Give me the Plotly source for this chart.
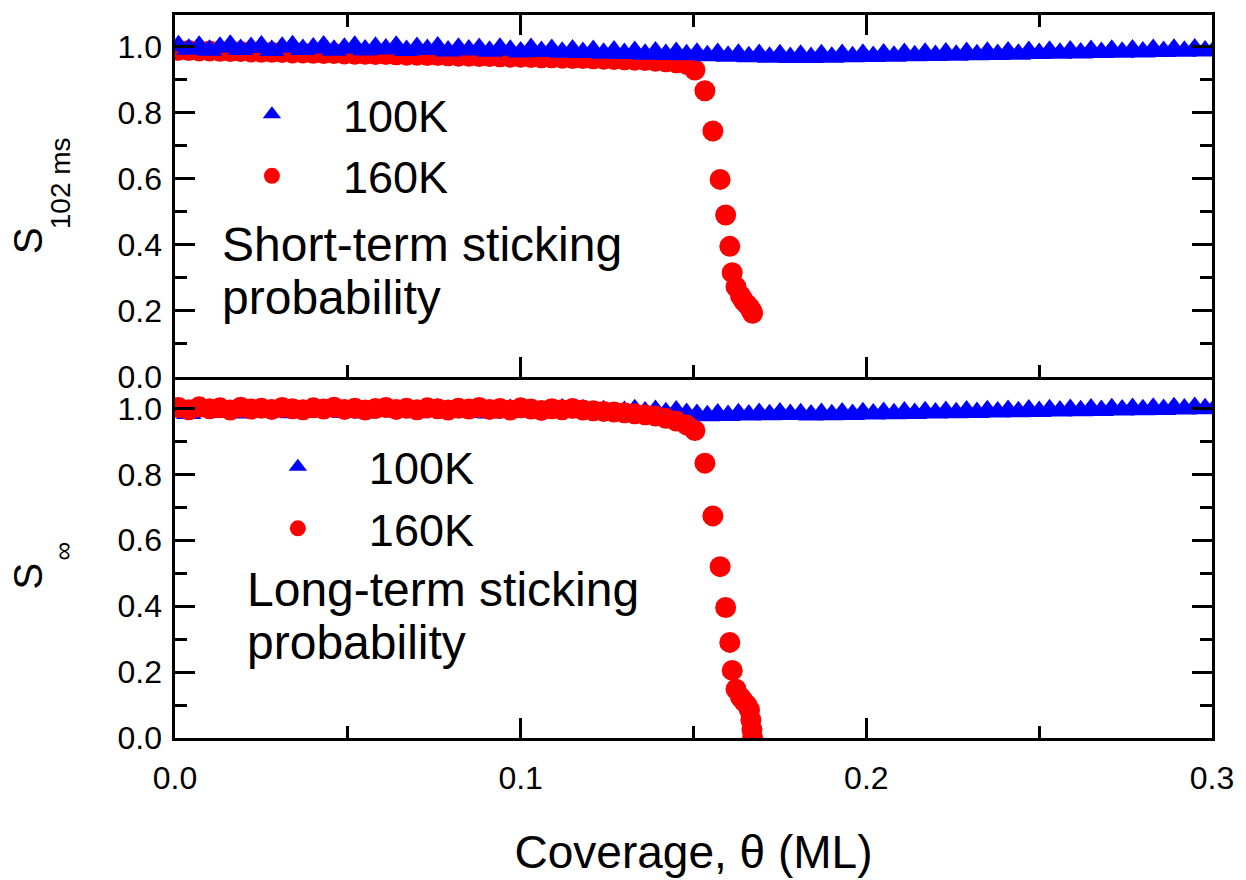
import plotly.graph_objects as go

FONT = "Liberation Sans, Arial, sans-serif"

# Coverage grid for the 100 K dosing series (ML)
theta_100k = [
    0.001, 0.004, 0.007, 0.010, 0.013, 0.016, 0.019, 0.022, 0.025, 0.028,
    0.031, 0.034, 0.037, 0.040, 0.043, 0.046, 0.049, 0.052, 0.055, 0.058,
    0.061, 0.064, 0.067, 0.070, 0.073, 0.076, 0.079, 0.082, 0.085, 0.088,
    0.091, 0.094, 0.097, 0.100, 0.103, 0.106, 0.109, 0.112, 0.115, 0.118,
    0.121, 0.124, 0.127, 0.130, 0.133, 0.136, 0.139, 0.142, 0.145, 0.148,
    0.151, 0.154, 0.157, 0.160, 0.163, 0.166, 0.169, 0.172, 0.175, 0.178,
    0.181, 0.184, 0.187, 0.190, 0.193, 0.196, 0.199, 0.202, 0.205, 0.208,
    0.211, 0.214, 0.217, 0.220, 0.223, 0.226, 0.229, 0.232, 0.235, 0.238,
    0.241, 0.244, 0.247, 0.250, 0.253, 0.256, 0.259, 0.262, 0.265, 0.268,
    0.271, 0.274, 0.277, 0.280, 0.283, 0.286, 0.289, 0.292, 0.295, 0.298, 0.301,
]

# Short-term (102 ms) sticking probability at 100 K
s_short_100k = [
    1.004, 0.993, 1.002, 0.990, 0.999, 1.005, 0.992, 0.998, 1.003, 0.989,
    0.999, 1.004, 0.992, 0.997, 1.003, 0.990, 0.996, 1.002, 0.991, 0.999,
    0.994, 1.002, 0.989, 0.998, 0.992, 1.000, 0.988, 0.996, 0.991, 0.995,
    0.987, 0.996, 0.990, 0.985, 0.995, 0.986, 0.992, 0.984, 0.991, 0.983,
    0.989, 0.981, 0.988, 0.980, 0.986, 0.978, 0.985, 0.977, 0.983, 0.976,
    0.981, 0.973, 0.980, 0.972, 0.978, 0.970, 0.977, 0.969, 0.976, 0.968,
    0.975, 0.968, 0.976, 0.969, 0.977, 0.970, 0.978, 0.971, 0.979, 0.972,
    0.980, 0.973, 0.981, 0.974, 0.982, 0.975, 0.983, 0.976, 0.984, 0.977,
    0.985, 0.978, 0.986, 0.980, 0.987, 0.981, 0.988, 0.982, 0.989, 0.983,
    0.990, 0.984, 0.991, 0.985, 0.992, 0.986, 0.993, 0.987, 0.994, 0.988, 0.995,
]

# Long-term (steady-state) sticking probability at 100 K
s_long_100k = [
    0.992, 0.985, 0.990, 0.996, 0.988, 0.993, 0.986, 0.991, 0.997, 0.989,
    0.994, 0.987, 0.992, 0.998, 0.990, 0.995, 0.988, 0.993, 0.986, 0.991,
    0.996, 0.989, 0.994, 0.987, 0.992, 0.998, 0.990, 0.995, 0.988, 0.993,
    0.986, 0.991, 0.997, 0.989, 0.994, 0.987, 0.992, 0.998, 0.990, 0.995,
    0.988, 0.993, 0.986, 0.991, 0.996, 0.989, 0.994, 0.987, 0.992, 0.985,
    0.982, 0.978, 0.983, 0.979, 0.984, 0.980, 0.985, 0.981, 0.986, 0.982,
    0.984, 0.980, 0.985, 0.981, 0.986, 0.982, 0.987, 0.983, 0.988, 0.984,
    0.989, 0.985, 0.990, 0.986, 0.991, 0.987, 0.992, 0.988, 0.993, 0.989,
    0.994, 0.990, 0.995, 0.991, 0.996, 0.992, 0.997, 0.993, 0.998, 0.994,
    0.999, 0.995, 1.000, 0.996, 1.001, 0.997, 1.002, 0.998, 1.003, 0.999, 1.004,
]

# Coverage grid for the 160 K dosing series (ML)
theta_160k = [
    0.001, 0.004, 0.007, 0.010, 0.013, 0.016, 0.019, 0.022, 0.025, 0.028,
    0.031, 0.034, 0.037, 0.040, 0.043, 0.046, 0.049, 0.052, 0.055, 0.058,
    0.061, 0.064, 0.067, 0.070, 0.073, 0.076, 0.079, 0.082, 0.085, 0.088,
    0.091, 0.094, 0.097, 0.100, 0.103, 0.106, 0.109, 0.112, 0.115, 0.118,
    0.121, 0.124, 0.127, 0.130, 0.133, 0.136, 0.139, 0.142, 0.145, 0.148,
    0.1504, 0.1533, 0.1556, 0.1577, 0.1593, 0.1605, 0.1612, 0.1623,
    0.1636, 0.1645, 0.1655, 0.1662, 0.1666, 0.1669, 0.1671,
]

# Short-term (102 ms) sticking probability at 160 K
s_short_160k = [
    0.990, 0.989, 0.988, 0.988, 0.987, 0.986, 0.986, 0.985, 0.984, 0.984,
    0.983, 0.982, 0.982, 0.981, 0.980, 0.980, 0.979, 0.978, 0.978, 0.977,
    0.977, 0.976, 0.975, 0.975, 0.974, 0.974, 0.973, 0.972, 0.972, 0.971,
    0.971, 0.970, 0.969, 0.969, 0.968, 0.967, 0.967, 0.966, 0.965, 0.965,
    0.964, 0.963, 0.962, 0.961, 0.960, 0.959, 0.957, 0.955, 0.952, 0.947,
    0.930, 0.867, 0.745, 0.598, 0.490, 0.395, 0.315, 0.272,
    0.245, 0.230, 0.218, 0.210, 0.203, 0.197, 0.192,
]

# Long-term (steady-state) sticking probability at 160 K
s_long_160k = [
    1.003, 0.996, 1.005, 0.999, 1.002, 0.995, 1.004, 0.998, 1.001, 0.997,
    1.003, 0.999, 0.996, 1.002, 0.998, 1.004, 0.997, 1.001, 0.995, 1.000,
    1.003, 0.997, 1.001, 0.996, 1.002, 0.999, 0.995, 1.001, 0.998, 1.003,
    0.997, 1.000, 0.995, 1.002, 0.998, 0.994, 0.999, 0.996, 1.000, 0.995,
    0.993, 0.991, 0.989, 0.987, 0.984, 0.981, 0.977, 0.970, 0.962, 0.950,
    0.933, 0.834, 0.674, 0.520, 0.396, 0.290, 0.205, 0.148,
    0.124, 0.112, 0.100, 0.085, 0.055, 0.025, 0.000,
]

series_names = ["100K", "160K"]
x_ticks = [0.0, 0.1, 0.2, 0.3]
y_ticks = [0.0, 0.2, 0.4, 0.6, 0.8, 1.0]
X_RANGE = [0, 0.3]
Y_RANGE = [0, 1.097]

BLUE = "#0000FF"
RED = "#FF0000"
TRI_SIZE = 22
DOT_SIZE = 21

fig = go.Figure()

# Upper panel: short-term sticking (100 K drawn over 160 K)
fig.add_trace(go.Scatter(
    x=theta_160k, y=s_short_160k, mode="markers", name=series_names[1],
    xaxis="x2", yaxis="y2", legend="legend", legendrank=2,
    marker=dict(symbol="circle", size=DOT_SIZE, color=RED, line=dict(width=0)),
))
fig.add_trace(go.Scatter(
    x=theta_100k, y=s_short_100k, mode="markers", name=series_names[0],
    xaxis="x2", yaxis="y2", legend="legend", legendrank=1,
    marker=dict(symbol="triangle-up", size=TRI_SIZE, color=BLUE, line=dict(width=0)),
))

# Lower panel: long-term sticking (160 K drawn over 100 K)
fig.add_trace(go.Scatter(
    x=theta_100k, y=s_long_100k, mode="markers", name=series_names[0],
    xaxis="x", yaxis="y", legend="legend2", legendrank=1,
    marker=dict(symbol="triangle-up", size=TRI_SIZE, color=BLUE, line=dict(width=0)),
))
fig.add_trace(go.Scatter(
    x=theta_160k, y=s_long_160k, mode="markers", name=series_names[1],
    xaxis="x", yaxis="y", legend="legend2", legendrank=2,
    marker=dict(symbol="circle", size=DOT_SIZE, color=RED, line=dict(width=0)),
))

# Empty placeholders so the overlaid label axes get a subplot and are drawn
for xa, ya in [("x3", "y"), ("x", "y3"), ("x2", "y4")]:
    fig.add_trace(go.Scatter(x=[], y=[], mode="markers", xaxis=xa, yaxis=ya,
                             showlegend=False, hoverinfo="skip"))

tick_font = dict(family=FONT, size=32, color="black")
legend_font = dict(family=FONT, size=45, color="black")


def frame_axis(step, minor_step, **kw):
    """Data axis: frame line plus inward major/minor tick marks."""
    base = dict(
        tickmode="linear", tick0=0, dtick=step,
        ticks="inside", ticklen=20, tickwidth=3, tickcolor="black",
        minor=dict(dtick=minor_step, ticks="inside", ticklen=12, tickwidth=3,
                   tickcolor="black", showgrid=False),
        showticklabels=False, showline=True, linecolor="black", linewidth=3,
        mirror="ticks", showgrid=False, zeroline=False,
    )
    base.update(kw)
    return base


def label_axis(vals, **kw):
    """Overlay axis carrying only the numeric tick labels."""
    base = dict(
        tickmode="array", tickvals=vals, tickformat=".1f", tickfont=tick_font,
        ticks="", showline=False, showgrid=False, zeroline=False,
    )
    base.update(kw)
    return base


fig.update_layout(
    width=1246, height=880, autosize=False,
    margin=dict(l=175, r=30, t=13, b=139, pad=0),
    paper_bgcolor="white", plot_bgcolor="white",
    font=dict(family=FONT, color="black"),
    # lower panel
    xaxis=frame_axis(0.1, 0.05, domain=[0, 1], anchor="y", range=X_RANGE, mirror=False),
    yaxis=frame_axis(0.2, 0.1, domain=[0, 0.5], anchor="x", range=Y_RANGE),
    xaxis3=label_axis(
        x_ticks, overlaying="x", anchor="y", side="bottom", range=X_RANGE,
        ticklabelstandoff=18,
        title=dict(text="Coverage, \u03b8 (ML)", font=dict(family=FONT, size=46, color="black"), standoff=40),
    ),
    yaxis3=label_axis(y_ticks, overlaying="y", anchor="x", side="left", range=Y_RANGE,
                      ticklabelstandoff=12),
    # upper panel
    xaxis2=frame_axis(0.1, 0.05, domain=[0, 1], anchor="y2", matches="x"),
    yaxis2=frame_axis(0.2, 0.1, domain=[0.5, 1], anchor="x2", range=Y_RANGE),
    yaxis4=label_axis(y_ticks, overlaying="y2", anchor="x2", side="left", range=Y_RANGE,
                      ticklabelstandoff=12),
    legend=dict(
        x=0.025, y=0.912, xanchor="left", yanchor="top",
        font=legend_font, bgcolor="rgba(0,0,0,0)", borderwidth=0,
        itemwidth=132, traceorder="normal", tracegroupgap=0,
    ),
    legend2=dict(
        x=0.05, y=0.4245, xanchor="left", yanchor="top",
        font=legend_font, bgcolor="rgba(0,0,0,0)", borderwidth=0,
        itemwidth=132, traceorder="normal", tracegroupgap=0,
    ),
    showlegend=True,
)

# Panel captions
text_font = dict(family=FONT, size=48, color="black")
captions = [
    ("Short-term sticking", 0.0432, 0.6830),
    ("probability", 0.0432, 0.6088),
    ("Long-term sticking", 0.0672, 0.2060),
    ("probability", 0.0672, 0.1318),
]
for txt, xp, yp in captions:
    fig.add_annotation(
        text=txt, x=xp, y=yp, xref="paper", yref="paper",
        xanchor="left", yanchor="middle", showarrow=False, font=text_font,
    )

# Y-axis labels: symbol plus subscript
ylabel_parts = [
    ("S", -0.1417, 0.6876, 40),
    ("102 ms", -0.1105, 0.7679, 28),
    ("S", -0.1417, 0.2235, 40),
    ("\u221e", -0.1081, 0.2592, 26),
]
for txt, xp, yp, size in ylabel_parts:
    fig.add_annotation(
        text=txt, x=xp, y=yp, xref="paper", yref="paper",
        xanchor="center", yanchor="middle", showarrow=False, textangle=-90,
        font=dict(family=FONT, size=size, color="black"),
    )

fig.write_html("out.html")
